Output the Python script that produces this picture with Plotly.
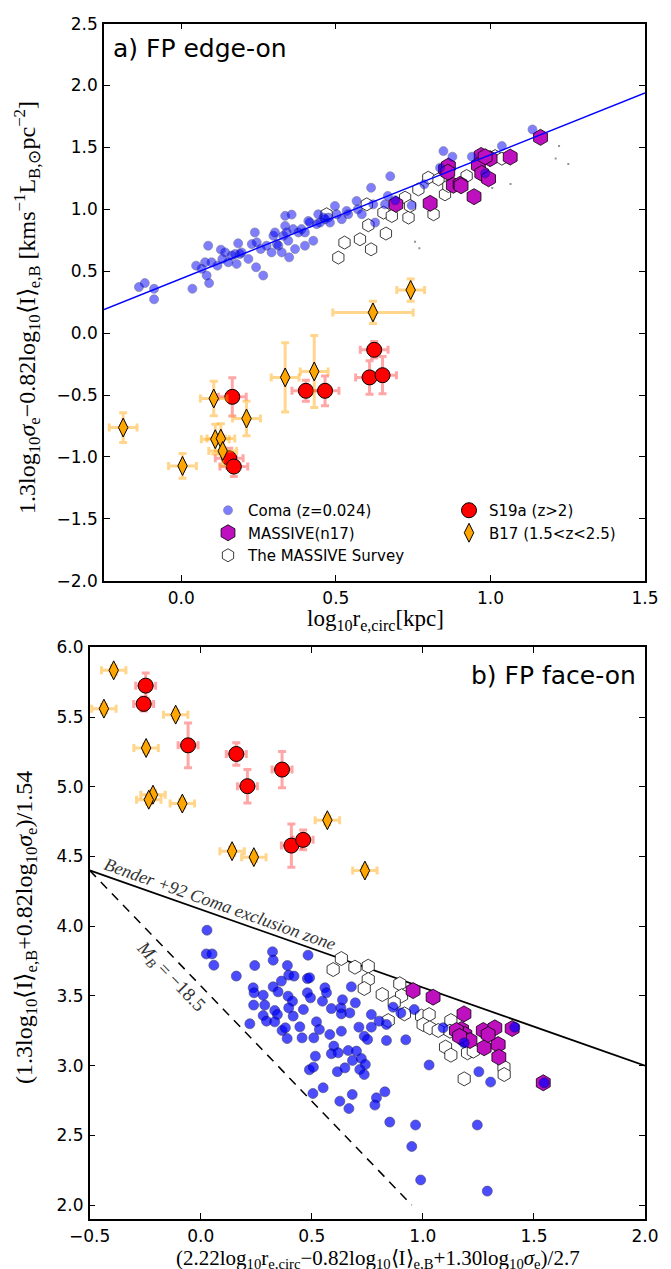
import plotly.graph_objects as go

# ---------------- Panel a) FP edge-on ----------------
coma_a_x = [-0.137,-0.118,-0.088,-0.088,0.036,0.048,0.066,0.077,0.087,0.090,0.082,0.098,0.117,0.128,0.142,0.133,0.152,0.163,0.174,0.179,
            0.184,0.190,0.195,0.217,0.228,0.238,0.242,0.244,0.257,0.265,0.276,0.292,0.298,0.303,0.309,0.314,0.325,0.330,0.336,0.336,
            0.341,0.346,0.349,0.357,0.362,0.368,0.379,0.389,0.400,0.400,0.411,0.416,0.427,0.438,0.443,0.449,0.460,0.465,0.476,0.481,
            0.497,0.503,0.519,0.535,0.540,0.567,0.571,0.584,0.614,0.627,0.676,0.659,0.692,0.745,0.786,0.837,0.848,0.877,0.940,0.983,
            1.037,1.136,0.621,0.668]
coma_a_y = [0.372,0.404,0.358,0.273,0.358,0.545,0.519,0.572,0.706,0.404,0.465,0.572,0.545,0.674,0.652,0.599,0.572,0.626,0.639,0.559,
            0.725,0.639,0.652,0.599,0.719,0.813,0.532,0.733,0.679,0.465,0.706,0.652,0.786,0.813,0.719,0.706,0.652,0.786,0.947,0.866,
            0.813,0.746,0.612,0.957,0.840,0.679,0.813,0.840,0.706,0.813,0.906,0.893,0.746,0.880,0.960,0.893,0.933,0.920,0.933,0.893,
            1.027,0.960,0.920,0.987,0.960,1.067,1.000,0.960,1.174,0.893,1.267,1.040,1.073,1.032,1.202,1.336,1.470,1.425,1.425,1.290,
            1.511,1.645,1.040,1.108]

survey_a_x = [0.470,0.508,0.528,0.578,0.614,0.605,0.662,0.600,0.654,0.681,0.724,0.735,0.740,0.767,0.799,0.816,0.832,0.853,0.864,0.923,1.015,1.037]
survey_a_y = [0.960,0.610,0.731,0.758,0.677,0.871,0.804,1.040,0.973,0.946,1.094,0.933,1.027,1.161,1.255,0.960,1.242,1.121,1.188,1.269,1.430,1.409]

massive_a_x = [0.694,0.805,0.855,0.864,0.880,0.902,0.947,0.970,0.999,0.961,0.972,0.994,1.064,1.162,0.983,0.862,0.905]
massive_a_y = [1.040,1.048,1.323,1.349,1.194,1.202,1.102,1.435,1.409,1.355,1.290,1.247,1.422,1.581,1.425,1.300,1.190]

faint_a_x = [1.222,1.211,1.252,1.006,1.065,0.756,0.770]
faint_a_y = [1.511,1.411,1.366,1.172,1.204,0.737,0.685]

s19_a_x = [0.165,0.155,0.170,0.403,0.465,0.624,0.609,0.651]
s19_a_y = [-0.515,-1.011,-1.078,-0.466,-0.466,-0.135,-0.358,-0.340]
s19_a_xerr = [0.045,0.045,0.045,0.045,0.045,0.045,0.045,0.045]
s19_a_yerr = [0.155,0.08,0.08,0.085,0.12,0.067,0.135,0.15]

b17_a_x = [-0.188,0.004,0.105,0.211,0.110,0.128,0.134,0.336,0.430,0.620,0.742]
b17_a_y = [-0.763,-1.073,-0.528,-0.690,-0.857,-0.852,-0.952,-0.358,-0.310,0.167,0.348]
b17_a_xerr = [0.045,0.045,0.043,0.045,0.045,0.045,0.045,0.045,0.045,0.13,0.045]
b17_a_yerr = [0.12,0.10,0.14,0.14,0.12,0.12,0.12,0.28,0.29,0.09,0.09]

fit_a_x = [-0.25, 1.5]
fit_a_y = [0.19, 1.94]

# ---------------- Panel b) FP face-on ----------------
coma_b_x = [0.028,0.025,0.051,0.059,0.160,0.243,0.323,0.326,0.390,0.483,0.236,0.240,0.281,0.238,0.288,0.326,0.348,0.363,0.396,0.420,
            0.393,0.413,0.396,0.281,0.296,0.333,0.345,0.333,0.366,0.381,0.389,0.221,0.416,0.446,0.456,0.462,0.480,0.490,0.480,0.494,
            0.509,0.516,0.489,0.507,0.505,0.551,0.521,0.534,0.548,0.559,0.566,0.588,0.581,0.631,0.633,0.638,0.633,0.599,0.588,0.619,
            0.615,0.649,0.664,0.683,0.701,0.723,0.741,0.716,0.736,0.671,0.678,0.696,0.712,0.736,0.751,0.768,0.768,0.626,0.667,0.682,
            0.791,0.784,0.836,0.803,0.836,0.923,0.866,0.901,0.961,1.028,1.091,1.252,1.305,1.186,1.414,1.546,0.829,0.851,0.967,1.245,
            0.950,0.990,1.290]
coma_b_y = [3.971,3.801,3.801,3.720,3.642,3.718,3.816,3.756,3.718,3.792,3.558,3.522,3.505,3.434,3.434,3.565,3.529,3.606,3.649,3.642,
            3.498,3.462,3.414,3.359,3.319,3.395,3.366,3.314,3.252,3.271,3.194,3.300,3.355,3.278,3.199,3.402,3.624,3.630,3.522,3.486,
            3.199,3.068,2.970,2.989,2.800,2.841,3.314,3.259,3.462,3.558,3.522,3.409,3.223,3.414,3.371,3.472,3.247,3.140,3.085,3.092,
            2.956,2.984,3.108,3.037,3.104,3.051,3.008,2.972,2.936,3.378,3.565,3.450,3.276,3.211,3.187,3.366,3.276,2.745,2.692,2.793,
            2.769,2.717,3.295,3.319,3.180,3.185,3.419,3.378,3.402,3.004,3.271,2.956,2.882,3.163,3.275,2.877,2.812,2.595,2.574,2.574,
            2.420,2.180,2.100]

survey_b_x = [0.633,0.596,0.694,0.754,0.754,0.736,0.817,0.896,0.904,0.871,0.917,0.844,0.994,1.028,1.001,1.031,1.069,1.126,1.122,1.102,1.126,1.201,1.227,1.186,1.365,1.366]
survey_b_y = [3.768,3.689,3.706,3.713,3.617,3.553,3.510,3.587,3.501,3.451,3.371,3.323,3.355,3.366,3.295,3.271,3.252,3.323,3.247,3.133,3.075,3.092,3.104,2.905,2.989,2.936]

massive_b_x = [0.956,1.046,1.185,1.174,1.189,1.189,1.212,1.272,1.324,1.276,1.339,1.342,1.402,1.542,1.151,1.294,1.165]
massive_b_y = [3.538,3.491,3.371,3.259,3.223,3.187,3.180,3.252,3.271,3.128,3.151,3.061,3.266,2.877,3.252,3.223,3.210]

s19_b_x = [-0.248,-0.257,-0.057,0.160,0.210,0.366,0.408,0.461]
s19_b_y = [5.725,5.594,5.297,5.235,5.004,5.123,4.578,4.619]
s19_b_xerr = [0.045,0.045,0.045,0.045,0.045,0.045,0.045,0.045]
s19_b_yerr = [0.09,0.05,0.16,0.08,0.12,0.13,0.155,0.07]

b17_b_x = [-0.392,-0.436,-0.113,-0.246,-0.215,-0.234,-0.083,0.141,0.239,0.570,0.739]
b17_b_y = [5.835,5.560,5.517,5.278,4.943,4.907,4.879,4.538,4.495,4.760,4.399]
b17_b_xerr = [0.055,0.055,0.055,0.055,0.055,0.055,0.055,0.055,0.055,0.055,0.055]
b17_b_yerr = [0.03,0.03,0.03,0.03,0.03,0.03,0.03,0.03,0.03,0.03,0.03]

bender_x = [-0.5, 2.0]
bender_y = [4.4, 3.0]
mb_x = [-0.5, 0.95]
mb_y = [4.4, 2.0]

W, H = 671, 1269
BLUE_EDGE = "rgba(0,0,60,0.8)"

fig = go.Figure()

def add_points(xa, ya, cx, cy, sx, sy, mx, my, legend, coma_op, coma_size, hex_size, surv_size):
    fig.add_trace(go.Scatter(x=sx, y=sy, mode="markers", xaxis=xa, yaxis=ya,
                             name="The MASSIVE Survey", showlegend=legend, legend="legend", legendrank=3,
                             marker=dict(symbol="hexagon", size=surv_size, color="white",
                                         line=dict(color="rgba(0,0,0,0.85)", width=0.9))))
    fig.add_trace(go.Scatter(x=mx, y=my, mode="markers", xaxis=xa, yaxis=ya,
                             name="MASSIVE(n17)", showlegend=legend, legend="legend", legendrank=2,
                             marker=dict(symbol="hexagon", size=hex_size, color="#bf10bf",
                                         line=dict(color="black", width=0.8))))
    fig.add_trace(go.Scatter(x=cx, y=cy, mode="markers", xaxis=xa, yaxis=ya,
                             name="Coma (z=0.024)", showlegend=legend, legend="legend", legendrank=1,
                             marker=dict(symbol="circle", size=coma_size, color="blue", opacity=coma_op,
                                         line=dict(color=BLUE_EDGE, width=0.8))))

def add_highz(xa, ya, rx, ry, rxe, rye, bx, by, bxe, bye, legend):
    fig.add_trace(go.Scatter(x=rx, y=ry, mode="markers", xaxis=xa, yaxis=ya,
                             name="S19a (z>2)", showlegend=legend, legend="legend2", legendrank=1,
                             error_x=dict(type="data", array=rxe, color="rgba(255,0,0,0.35)", thickness=3, width=4),
                             error_y=dict(type="data", array=rye, color="rgba(255,0,0,0.35)", thickness=3, width=4),
                             marker=dict(symbol="circle", size=15, color="red", line=dict(color="black", width=1))))
    fig.add_trace(go.Scatter(x=bx, y=by, mode="markers", xaxis=xa, yaxis=ya,
                             name="B17 (1.5<z<2.5)", showlegend=legend, legend="legend2", legendrank=2,
                             error_x=dict(type="data", array=bxe, color="rgba(255,165,0,0.45)", thickness=3, width=4),
                             error_y=dict(type="data", array=bye, color="rgba(255,165,0,0.45)", thickness=3, width=4),
                             marker=dict(symbol="diamond-tall", size=13.5, color="orange", line=dict(color="black", width=1))))

# panel a
fig.add_trace(go.Scatter(x=faint_a_x, y=faint_a_y, mode="markers", xaxis="x", yaxis="y", showlegend=False,
                         marker=dict(symbol="square", size=2, color="rgba(120,120,120,0.8)")))
add_points("x", "y", coma_a_x, coma_a_y, survey_a_x, survey_a_y, massive_a_x, massive_a_y, True, 0.5, 9, 16, 13)
fig.add_trace(go.Scatter(x=fit_a_x, y=fit_a_y, mode="lines", xaxis="x", yaxis="y", showlegend=False,
                         line=dict(color="blue", width=1.5)))
add_highz("x", "y", s19_a_x, s19_a_y, s19_a_xerr, s19_a_yerr, b17_a_x, b17_a_y, b17_a_xerr, b17_a_yerr, True)

# panel b
fig.add_trace(go.Scatter(x=bender_x, y=bender_y, mode="lines", xaxis="x2", yaxis="y2", showlegend=False,
                         line=dict(color="black", width=1.8)))
fig.add_trace(go.Scatter(x=mb_x, y=mb_y, mode="lines", xaxis="x2", yaxis="y2", showlegend=False,
                         line=dict(color="black", width=1.5, dash="9px,7px")))
add_points("x2", "y2", coma_b_x, coma_b_y, survey_b_x, survey_b_y, massive_b_x, massive_b_y, False, 0.7, 10, 16, 14)
add_highz("x2", "y2", s19_b_x, s19_b_y, s19_b_xerr, s19_b_yerr, b17_b_x, b17_b_y, b17_b_xerr, b17_b_yerr, False)

TICKFONT = dict(family="DejaVu Sans", size=17, color="black")
axcommon = dict(showline=True, linecolor="black", linewidth=1.5, mirror="ticks", ticks="inside",
                ticklen=6, tickwidth=1, tickcolor="black", showgrid=False, zeroline=False,
                tickfont=TICKFONT, ticklabelstandoff=1, automargin=False)

LEGFONT = dict(family="DejaVu Sans", size=15, color="black")
fig.update_layout(
    width=W, height=H, margin=dict(l=0, r=0, t=0, b=0, autoexpand=False),
    paper_bgcolor="white", plot_bgcolor="white",
    xaxis=dict(domain=[96/W, 637/W], range=[-0.25, 1.5], tickvals=[0.0, 0.5, 1.0, 1.5], tickformat=".1f",
               anchor="y", **axcommon),
    yaxis=dict(domain=[(H-572.7)/H, (H-15.6)/H], range=[-2.0, 2.5],
               tickvals=[-2.0,-1.5,-1.0,-0.5,0.0,0.5,1.0,1.5,2.0,2.5], tickformat=".1f", anchor="x", **axcommon),
    xaxis2=dict(domain=[81.7/W, 637/W], range=[-0.5, 2.0], tickvals=[-0.5,0.0,0.5,1.0,1.5,2.0], tickformat=".1f",
                anchor="y2", **axcommon),
    yaxis2=dict(domain=[(H-1211)/H, (H-639.3)/H], range=[1.9, 6.0],
                tickvals=[2.0,2.5,3.0,3.5,4.0,4.5,5.0,5.5,6.0], tickformat=".1f", anchor="x2", **axcommon),
    legend=dict(orientation="v", x=200/W, y=1-486/H, xanchor="left", yanchor="top",
                bgcolor="rgba(0,0,0,0)", font=LEGFONT, traceorder="normal"),
    legend2=dict(orientation="v", x=441/W, y=1-486/H, xanchor="left", yanchor="top",
                 bgcolor="rgba(0,0,0,0)", font=LEGFONT, traceorder="normal"),
    showlegend=True,
)

SERIF = "Liberation Serif"
TSIZE = 23
ann = []
ann.append(dict(text="a) FP edge-on", x=103/W, y=1-40/H, xref="paper", yref="paper", xanchor="left", yanchor="middle",
                showarrow=False, font=dict(family="DejaVu Sans", size=25, color="black")))
ann.append(dict(text="b) FP face-on", x=630/W, y=1-667/H, xref="paper", yref="paper", xanchor="right", yanchor="middle",
                showarrow=False, font=dict(family="DejaVu Sans", size=25, color="black")))
ann.append(dict(text="1.3log<sub>10</sub><i>σ</i><sub>e</sub>−0.82log<sub>10</sub>⟨I⟩<sub>e,B</sub> [kms<sup>−1</sup>L<sub>B,⊙</sub>pc<sup>−2</sup>]",
                x=19/W, y=1-300/H, xref="paper", yref="paper", xanchor="center", yanchor="middle", textangle=-90,
                showarrow=False, font=dict(family=SERIF, size=24, color="black")))
ann.append(dict(text="log<sub>10</sub>r<sub>e,circ</sub>[kpc]",
                x=367/W, y=1-612/H, xref="paper", yref="paper", xanchor="center", yanchor="middle",
                showarrow=False, font=dict(family=SERIF, size=TSIZE, color="black")))
ann.append(dict(text="(2.22log<sub>10</sub>r<sub>e,circ</sub>−0.82log<sub>10</sub>⟨I⟩<sub>e,B</sub>+1.30log<sub>10</sub><i>σ</i><sub>e</sub>)/2.7",
                x=370/W, y=3/H, xref="paper", yref="paper", xanchor="center", yanchor="bottom",
                showarrow=False, font=dict(family=SERIF, size=21, color="black")))
ann.append(dict(text="(1.3log<sub>10</sub>⟨I⟩<sub>e,B</sub>+0.82log<sub>10</sub><i>σ</i><sub>e</sub>)/1.54",
                x=18/W, y=1-920/H, xref="paper", yref="paper", xanchor="center", yanchor="middle", textangle=-90,
                showarrow=False, font=dict(family=SERIF, size=24, color="black")))
ann.append(dict(text="<i>Bender +92 Coma exclusion zone</i>", x=0.085, y=4.16, xref="x2", yref="y2",
                xanchor="center", yanchor="middle", textangle=19.5, showarrow=False,
                font=dict(family=SERIF, size=18, color="#333333")))
ann.append(dict(text="<i>M</i><sub><i>B</i></sub> = −18.5", x=-0.136, y=3.637, xref="x2", yref="y2",
                xanchor="center", yanchor="middle", textangle=46, showarrow=False,
                font=dict(family=SERIF, size=19, color="#333333")))
fig.update_layout(annotations=ann)

fig.write_html("out.html")
